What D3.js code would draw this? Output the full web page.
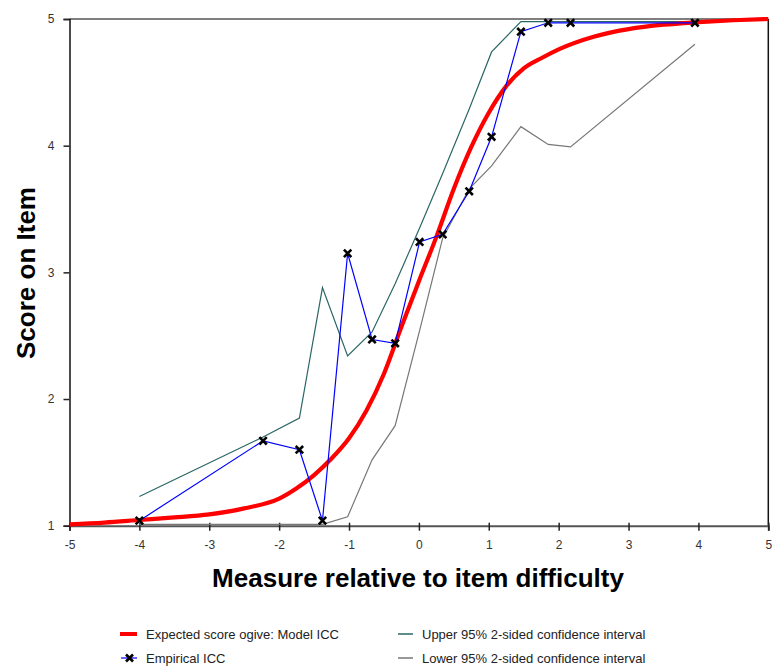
<!DOCTYPE html>
<html>
<head>
<meta charset="utf-8">
<script src="https://cdn.jsdelivr.net/npm/d3@7"></script>
<style>
  html, body { margin: 0; padding: 0; background: #fff; }
  svg { display: block; font-family: Arial, "Liberation Sans", sans-serif; }
</style>
</head>
<body>
<svg id="chart" width="773" height="670"></svg>
<script>
// Measure (logits) relative to item difficulty at each empirical interval
const measures  = [-4.00, -2.23, -1.71, -1.38, -1.02, -0.67, -0.34, 0.01, 0.34, 0.72, 1.04, 1.46, 1.85, 2.17, 3.95];
const empirical = [1.04, 1.67, 1.60, 1.04, 3.15, 2.47, 2.44, 3.24, 3.30, 3.64, 4.07, 4.90, 4.97, 4.97, 4.97];
const upperCI   = [1.23, 1.70, 1.85, 2.88, 2.34, 2.53, 2.91, 3.35, 3.78, 4.29, 4.74, 4.98, 4.98, 4.98, 4.98];
const lowerCI   = [1.01, 1.01, 1.01, 1.01, 1.07, 1.52, 1.79, 2.54, 3.27, 3.66, 3.84, 4.15, 4.01, 3.99, 4.80];

// Expected score ogive (model ICC)
const modelX = [-5, -4.5, -4, -3.5, -3, -2.5, -2, -1.75, -1.5, -1.25, -1, -0.75, -0.5, -0.25, 0, 0.25, 0.5, 0.75, 1, 1.25, 1.5, 1.75, 2, 2.5, 3, 3.5, 4, 4.5, 5];
const modelY = [1.011, 1.025, 1.045, 1.065, 1.09, 1.137, 1.213, 1.295, 1.40, 1.53, 1.69, 1.91, 2.20, 2.57, 2.93, 3.28, 3.66, 3.99, 4.26, 4.47, 4.61, 4.69, 4.76, 4.86, 4.92, 4.955, 4.975, 4.99, 5.0];

const xTicks = [-5, -4, -3, -2, -1, 0, 1, 2, 3, 4, 5];
const yTicks = [1, 2, 3, 4, 5];

const xTitle = "Measure relative to item difficulty";
const yTitle = "Score on Item";
const legendItems = [
  "Expected score ogive: Model ICC",
  "Empirical ICC",
  "Upper 95% 2-sided confidence interval",
  "Lower 95% 2-sided confidence interval"
];

const colors = { model: "#ff0000", empirical: "#0000ff", upper: "#2a6666", lower: "#777777" };

const svg = d3.select("#chart");
const x = d3.scaleLinear().domain([-5, 5]).range([69.5, 768.3]);
const y = d3.scaleLinear().domain([1, 5]).range([525.7, 19]);

const pts = (xs, ys) => xs.map((v, i) => [v, ys[i]]);
const line = d3.line().x(d => x(d[0])).y(d => y(d[1]));
const plain = d => String(d);  // ASCII hyphen for negatives

// Frame: top and right borders
svg.append("line").attr("x1", x(-5)).attr("x2", x(5)).attr("y1", y(5)).attr("y2", y(5))
  .attr("stroke", "#555").attr("stroke-width", 1.5);
svg.append("line").attr("x1", x(5)).attr("x2", x(5)).attr("y1", y(5)).attr("y2", y(1))
  .attr("stroke", "#111").attr("stroke-width", 1.5);

// X axis
const xAxis = svg.append("g").attr("transform", `translate(0,${y(1)})`)
  .call(d3.axisBottom(x).tickValues(xTicks).tickSize(5).tickPadding(10).tickFormat(plain));
xAxis.select(".domain").attr("stroke", "#555").attr("stroke-width", 2);
xAxis.selectAll(".tick line").attr("stroke", "#222").attr("stroke-width", 1.5).attr("y1", -3);
xAxis.selectAll(".tick text").attr("font-size", 12).attr("fill", "#333")
  .attr("font-family", "Arial, 'Liberation Sans', sans-serif");

// Y axis
const yAxis = svg.append("g").attr("transform", `translate(${x(-5)},0)`)
  .call(d3.axisLeft(y).tickValues(yTicks).tickSize(6).tickPadding(9).tickFormat(plain));
yAxis.select(".domain").attr("stroke", "#111").attr("stroke-width", 1.5);
yAxis.selectAll(".tick line").attr("stroke", "#222").attr("stroke-width", 1.5);
yAxis.selectAll(".tick text").attr("font-size", 12).attr("fill", "#333")
  .attr("font-family", "Arial, 'Liberation Sans', sans-serif");

// Confidence bands
svg.append("path").datum(pts(measures, lowerCI)).attr("d", line)
  .attr("fill", "none").attr("stroke", colors.lower).attr("stroke-width", 1.2);
svg.append("path").datum(pts(measures, upperCI)).attr("d", line)
  .attr("fill", "none").attr("stroke", colors.upper).attr("stroke-width", 1.2);

// Model ICC
svg.append("path").datum(pts(modelX, modelY))
  .attr("d", d3.line().x(d => x(d[0])).y(d => y(d[1])).curve(d3.curveMonotoneX))
  .attr("fill", "none").attr("stroke", colors.model).attr("stroke-width", 4.2)
  .attr("stroke-linejoin", "round");

// Empirical ICC
svg.append("path").datum(pts(measures, empirical)).attr("d", line)
  .attr("fill", "none").attr("stroke", colors.empirical).attr("stroke-width", 1.2);

const cross = s => `M${-s},${-s}L${s},${s}M${-s},${s}L${s},${-s}`;
svg.append("g").selectAll("path").data(pts(measures, empirical)).join("path")
  .attr("transform", d => `translate(${x(d[0])},${y(d[1])})`)
  .attr("d", cross(3.7)).attr("stroke", "#000").attr("stroke-width", 2.6).attr("fill", "none");

// Axis titles
svg.append("text").attr("x", 418).attr("y", 587).attr("text-anchor", "middle")
  .attr("font-size", 26).attr("font-weight", "bold").attr("fill", "#000").text(xTitle);
svg.append("text").attr("transform", "translate(35,273) rotate(-90)").attr("text-anchor", "middle")
  .attr("font-size", 26).attr("font-weight", "bold").attr("fill", "#000").text(yTitle);

// Legend
const lg = svg.append("g").attr("font-size", 13).attr("fill", "#222");
const rows = [634, 658];
lg.append("line").attr("x1", 120).attr("x2", 137).attr("y1", rows[0]).attr("y2", rows[0])
  .attr("stroke", colors.model).attr("stroke-width", 4);
lg.append("text").attr("x", 146).attr("y", rows[0] + 4.5).text(legendItems[0]);

lg.append("line").attr("x1", 121).attr("x2", 137).attr("y1", rows[1]).attr("y2", rows[1])
  .attr("stroke", colors.empirical).attr("stroke-width", 1.2);
lg.append("path").attr("transform", `translate(129.5,${rows[1]})`).attr("d", cross(3.5))
  .attr("stroke", "#000").attr("stroke-width", 2.6).attr("fill", "none");
lg.append("text").attr("x", 146).attr("y", rows[1] + 4.5).text(legendItems[1]);

lg.append("line").attr("x1", 398).attr("x2", 413).attr("y1", rows[0]).attr("y2", rows[0])
  .attr("stroke", colors.upper).attr("stroke-width", 1.5);
lg.append("text").attr("x", 422).attr("y", rows[0] + 4.5).text(legendItems[2]);

lg.append("line").attr("x1", 398).attr("x2", 413).attr("y1", rows[1]).attr("y2", rows[1])
  .attr("stroke", colors.lower).attr("stroke-width", 1.5);
lg.append("text").attr("x", 422).attr("y", rows[1] + 4.5).text(legendItems[3]);
</script>
</body>
</html>
